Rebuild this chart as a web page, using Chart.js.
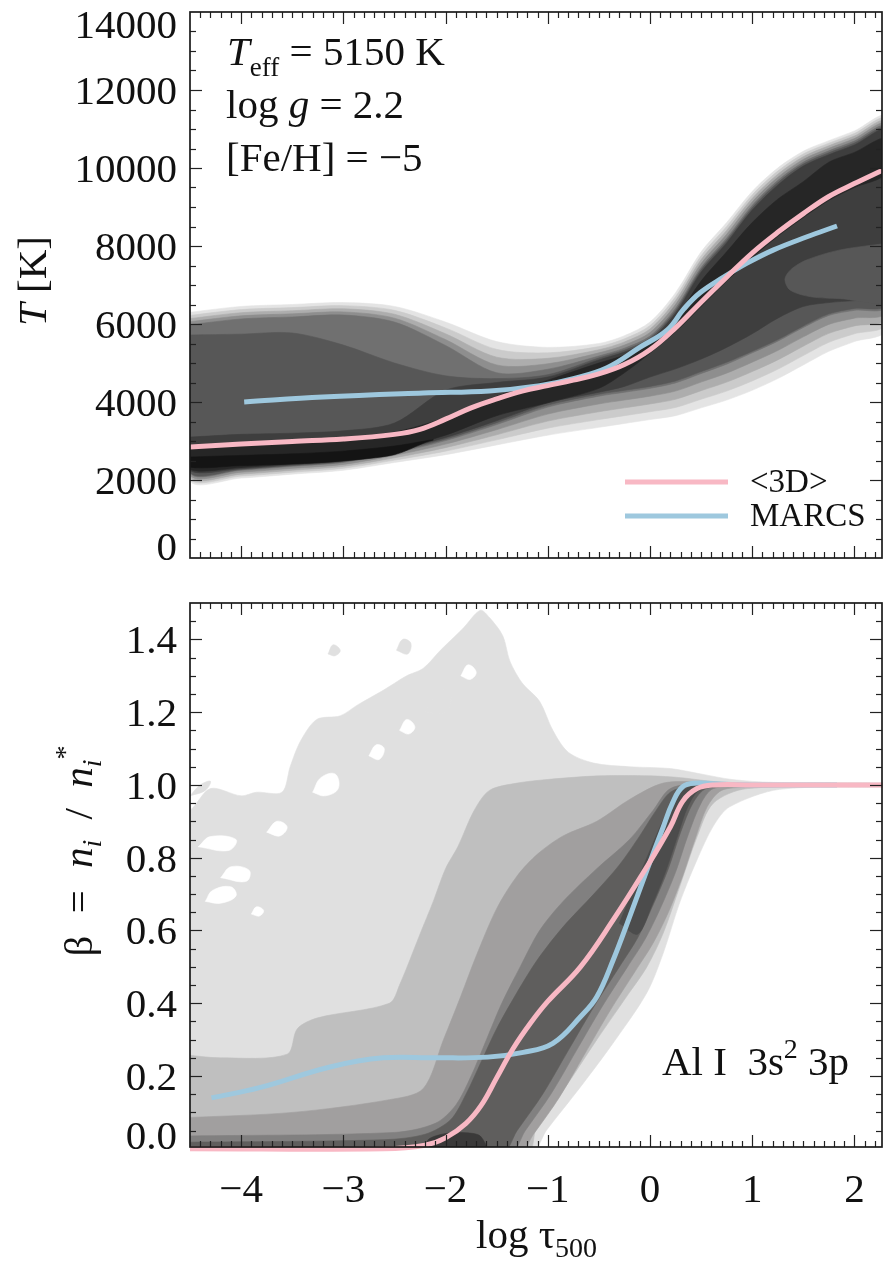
<!DOCTYPE html>
<html><head><meta charset="utf-8">
<script src="https://cdn.jsdelivr.net/npm/chart.js@4.4.1/dist/chart.umd.min.js"></script>
<style>html,body{margin:0;padding:0;background:#fff;}#wrap{position:relative;width:883px;height:1261px;overflow:hidden}canvas{position:absolute;left:0}</style>
</head><body><div id="wrap"><canvas id="ctop" width="883" height="590" style="top:0"></canvas><canvas id="cbot" width="883" height="671" style="top:590px"></canvas></div>
<script>
// ---------- tick values & labels ----------
const T_TICKS = [0,2000,4000,6000,8000,10000,12000,14000];
const T_LABELS = ['0','2000','4000','6000','8000','10000','12000','14000'];
const B_TICKS = [0,0.2,0.4,0.6,0.8,1.0,1.2,1.4];
const B_LABELS = ['0.0','0.2','0.4','0.6','0.8','1.0','1.2','1.4'];
const X_TICKS = [-4,-3,-2,-1,0,1,2];
const X_LABELS = ['\u22124','\u22123','\u22122','\u22121','0','1','2'];

// ---------- mean curves ----------
const SERIES_NAMES = ['<3D>','MARCS'];
const T3D_X = [-4.5,-4,-3.5,-3,-2.5,-2.25,-2,-1.75,-1.5,-1.25,-1,-0.75,-0.5,-0.25,0,0.25,0.5,0.75,1,1.25,1.5,1.75,2,2.28];
const T3D_Y = [2846,2923,2990,3050,3170,3300,3560,3850,4080,4280,4420,4560,4720,4960,5340,5900,6560,7200,7820,8350,8830,9270,9600,9949];
const TMARCS_X = [-3.97,-3.2,-2.22,-1.57,-1.08,-0.75,-0.42,-0.1,0.17,0.33,0.49,0.72,0.95,1.21,1.53,1.83];
const TMARCS_Y = [4000,4128,4231,4282,4420,4600,4880,5400,5850,6380,6800,7200,7560,7900,8230,8513];
const B3D_X = [-4.5,-2.6,-2.2,-2.0,-1.8,-1.65,-1.5,-1.34,-1.17,-1.0,-0.68,-0.36,-0.03,0.2,0.32,0.46,0.62,1.0,2.3];
const B3D_Y = [0,0,0.01,0.03,0.07,0.12,0.195,0.275,0.345,0.405,0.5,0.629,0.775,0.885,0.955,0.99,1.0,1.0,1.0];
const BMARCS_X = [-4.29,-3.82,-3.13,-2.61,-2.09,-1.59,-1.24,-0.95,-0.68,-0.52,-0.36,-0.2,-0.03,0.13,0.22,0.32,0.46,0.62,1.0,1.83];
const BMARCS_Y = [0.14,0.168,0.225,0.25,0.25,0.252,0.265,0.29,0.363,0.418,0.519,0.637,0.766,0.885,0.95,0.995,1.005,1.003,1.0,1.0];

// ---------- top panel: temperature distribution contours (upper / lower edges on a grid) ----------
const GRID_T = [-4.5,-4,-3.5,-3,-2.5,-2,-1.5,-1,-0.5,-0.25,0,0.25,0.5,0.75,1,1.25,1.5,1.75,2,2.3];
const T1_UP = [6300,6450,6500,6550,6450,6050,5550,5400,5500,5700,6050,6800,7850,8600,9400,10000,10430,10700,10950,11300];
const T1_LO = [2000,2050,2150,2250,2450,2650,2900,3150,3350,3450,3550,3650,3850,4050,4300,4600,4950,5300,5550,5850];
const T2_UP = [6220,6370,6420,6470,6350,5900,5350,5260,5420,5620,5960,6700,7750,8500,9310,9920,10360,10635,10885,11235];
const T2_LO = [2050,2100,2200,2300,2510,2740,3030,3330,3550,3650,3750,3860,4070,4280,4540,4840,5190,5530,5750,6000];
const T3_UP = [6140,6290,6340,6390,6250,5750,5150,5120,5340,5540,5870,6600,7650,8400,9220,9840,10290,10570,10820,11170];
const T3_LO = [2100,2150,2250,2350,2570,2830,3160,3510,3750,3850,3950,4070,4290,4510,4780,5080,5430,5760,5950,6150];
const T4_UP = [6060,6210,6260,6310,6150,5600,4950,4980,5260,5460,5780,6500,7550,8300,9130,9760,10220,10505,10755,11105];
const T4_LO = [2150,2200,2300,2400,2630,2920,3290,3690,3950,4050,4150,4280,4510,4740,5020,5320,5670,5990,6150,6300];
const T5_UP = [5980,6130,6180,6230,6050,5450,4750,4840,5180,5380,5690,6400,7450,8200,9040,9680,10150,10440,10690,11040];
const T5_LO = [2200,2250,2350,2450,2690,3010,3420,3870,4150,4250,4350,4490,4730,4970,5260,5560,5910,6220,6350,6450];
const T6_UP = [5720,5740,5770,5460,5000,4670,4600,4700,5130,5330,5640,6340,7390,8140,8980,9620,10100,10390,10640,10990];
const T6_LO = [2220,2270,2370,2470,2720,3050,3470,3920,4200,4300,4400,4540,4780,5020,5300,5600,5950,6260,6400,6500];
const T7_UP = [3100,3170,3200,3260,3460,4300,4500,4640,5080,5280,5590,6280,7330,8080,8920,9560,10050,10340,10590,10940];
const T7_LO = [2240,2290,2390,2490,2750,3090,3520,3980,4250,4400,4640,4850,5100,5400,5750,6150,6450,6550,6600,6650];
const T8_UP = [2900,2970,3030,3100,3230,3600,4150,4560,5000,5200,5500,6150,7100,7850,8600,9200,9650,10150,10400,10750];
const T8_LO = [2270,2320,2420,2520,2790,3150,3650,3980,4350,4750,5250,5800,6450,7100,7700,8250,8730,9170,9500,9850];
const T9 = [[-4.5,2590],[-4,2630],[-3.5,2670],[-3,2740],[-2.5,2870],[-2.2,3000],[-2.12,3030],[-2.2,2960],[-2.5,2650],[-3,2490],[-3.5,2410],[-4,2370],[-4.5,2330]];
const TONGUE = [[2.35,8080],[1.86,7900],[1.53,7640],[1.38,7400],[1.32,7150],[1.37,6870],[1.57,6700],[1.86,6650],[2.35,6600]];

// ---------- bottom panel: departure coefficient distribution contours ----------
const B1 = [[-4.6,0.93],[-4.5,0.93],[-4.3,0.99],[-4.0,0.97],[-3.85,0.98],[-3.6,0.98],[-3.52,1.05],[-3.42,1.12],[-3.26,1.18],[-3.03,1.19],[-2.86,1.22],[-2.61,1.26],[-2.38,1.30],[-2.22,1.32],[-2.05,1.37],[-1.83,1.43],[-1.66,1.48],[-1.57,1.46],[-1.44,1.41],[-1.37,1.34],[-1.25,1.28],[-1.08,1.23],[-0.95,1.15],[-0.8,1.09],[-0.55,1.06],[-0.2,1.05],[0.2,1.045],[0.5,1.03],[0.8,1.015],[1.2,1.007],[2.35,1.005],[2.35,0.995],[1.27,0.988],[0.78,0.94],[0.62,0.887],[0.46,0.794],[0.29,0.676],[0.13,0.538],[-0.03,0.429],[-0.36,0.291],[-0.68,0.17],[-1.01,0.052],[-1.17,-0.01],[-4.6,-0.01]];
const B2 = [[-4.6,0.26],[-4.2,0.25],[-3.55,0.26],[-3.45,0.33],[-3.25,0.36],[-2.55,0.40],[-2.45,0.45],[-2.25,0.59],[-2.12,0.68],[-2.0,0.77],[-1.88,0.83],[-1.72,0.93],[-1.57,0.985],[-1.3,1.005],[-1.0,1.015],[-0.5,1.025],[0,1.025],[0.3,1.02],[0.6,1.01],[1.0,1.004],[2.35,1.003],[2.35,0.997],[0.95,0.99],[0.62,0.95],[0.46,0.857],[0.29,0.72],[0.13,0.593],[-0.03,0.50],[-0.2,0.43],[-0.52,0.30],[-0.85,0.16],[-1.11,0.06],[-1.2,-0.01],[-4.6,-0.01]];
const B3 = [[-4.6,0.085],[-3.5,0.10],[-2.55,0.135],[-2.22,0.165],[-2.02,0.30],[-1.85,0.42],[-1.7,0.53],[-1.5,0.66],[-1.3,0.75],[-1.1,0.81],[-0.85,0.86],[-0.52,0.9],[-0.2,0.96],[0.13,1.005],[0.5,1.008],[1.0,1.003],[2.35,1.002],[2.35,0.998],[0.95,0.993],[0.7,0.985],[0.56,0.94],[0.44,0.85],[0.32,0.75],[0.18,0.65],[0.03,0.565],[-0.14,0.49],[-0.39,0.38],[-0.64,0.26],[-0.89,0.14],[-1.14,0.04],[-1.28,-0.01],[-4.6,-0.01]];
const B4 = [[-4.6,0.035],[-2.5,0.045],[-2.1,0.07],[-1.9,0.12],[-1.75,0.2],[-1.6,0.3],[-1.45,0.4],[-1.27,0.5],[-1.08,0.6],[-0.85,0.68],[-0.52,0.77],[-0.2,0.85],[0.03,0.93],[0.2,0.99],[0.5,1.003],[2.35,1.001],[2.35,0.999],[0.95,0.996],[0.62,0.99],[0.5,0.95],[0.37,0.86],[0.25,0.76],[0.1,0.66],[-0.05,0.575],[-0.22,0.5],[-0.47,0.39],[-0.72,0.27],[-0.97,0.15],[-1.22,0.05],[-1.37,-0.01],[-4.6,-0.01]];
const B5 = [[-4.6,0.018],[-2.6,0.025],[-2.2,0.04],[-1.95,0.08],[-1.8,0.15],[-1.65,0.24],[-1.5,0.33],[-1.3,0.43],[-1.1,0.52],[-0.85,0.61],[-0.55,0.7],[-0.3,0.78],[-0.1,0.86],[0.06,0.93],[0.2,0.98],[0.4,0.998],[1,1.0],[2.35,1.0],[2.35,0.9995],[0.9,0.998],[0.55,0.99],[0.42,0.95],[0.3,0.87],[0.18,0.77],[0.03,0.67],[-0.12,0.58],[-0.3,0.5],[-0.55,0.39],[-0.8,0.27],[-1.05,0.15],[-1.3,0.05],[-1.45,-0.01],[-4.6,-0.01]];
const B6 = [[-0.3,0.62],[-0.15,0.72],[0.0,0.82],[0.14,0.91],[0.26,0.97],[0.4,0.995],[0.7,1.0],[1.1,1.0],[1.1,0.999],[0.7,0.997],[0.48,0.985],[0.37,0.94],[0.27,0.86],[0.15,0.76],[0.02,0.67],[-0.12,0.59]];
const B7 = [[-2.2,-0.01],[-2.17,0.025],[-2.0,0.042],[-1.8,0.044],[-1.66,0.035],[-1.6,-0.01]];
const ISLANDS = [
  [[-2.48,1.37],[-2.42,1.40],[-2.34,1.39],[-2.37,1.36]],
  [[-3.15,1.36],[-3.1,1.385],[-3.03,1.37],[-3.08,1.355]],
  [[-4.5,0.97],[-4.4,1.0],[-4.3,1.01],[-4.35,0.985]],
  [[-2.2,1.2],[-2.05,1.26],[-1.95,1.25],[-2.0,1.2]]
];
const HOLES = [
  [[-4.35,0.68],[-4.28,0.71],[-4.1,0.72],[-4.05,0.695],[-4.2,0.675]],
  [[-4.2,0.745],[-4.1,0.775],[-3.92,0.765],[-3.95,0.735]],
  [[-3.9,0.645],[-3.85,0.665],[-3.78,0.655],[-3.82,0.64]],
  [[-4.42,0.83],[-4.3,0.858],[-4.05,0.85],[-4.12,0.82]],
  [[-3.3,0.98],[-3.22,1.02],[-3.08,1.03],[-3.05,0.99],[-3.18,0.97]],
  [[-2.75,1.08],[-2.68,1.11],[-2.6,1.1],[-2.65,1.07]],
  [[-2.45,1.15],[-2.38,1.18],[-2.3,1.16],[-2.36,1.14]],
  [[-3.75,0.87],[-3.65,0.9],[-3.55,0.885],[-3.62,0.86]],
  [[-1.85,1.3],[-1.78,1.33],[-1.7,1.31],[-1.76,1.29]]
];

// ---------- styling ----------
const PINK = '#F8B8C4', BLUE = '#9EC8DE';
const FONT = '"Liberation Serif","Times New Roman",serif';

function band(xs, up, lo) {
  const p = [];
  for (let i = 0; i < xs.length; i++) p.push({x: xs[i], y: up[i]});
  for (let i = xs.length - 1; i >= 0; i--) p.push({x: xs[i], y: lo[i]});
  p.push({x: xs[0], y: up[0]});
  return p;
}
function poly(arr) { const p = arr.map(a => ({x: a[0], y: a[1]})); p.push({x: arr[0][0], y: arr[0][1]}); return p; }
function shape(pts, color, tension) {
  return {data: pts, showLine: true, fill: 'shape', backgroundColor: color, borderColor: color,
          borderWidth: 0.6, pointRadius: 0, tension: tension === undefined ? 0.3 : tension};
}
function curve(xs, ys, color, label) {
  return {label, data: xs.map((x, i) => ({x, y: ys[i]})), showLine: true, fill: false,
          borderColor: color, backgroundColor: color, borderWidth: 5, pointRadius: 0,
          tension: 0.4, clip: false};
}
function ordered(list) { return list.map((d, i) => Object.assign(d, {order: list.length - i})); }

function seg(ctx, x1, y1, x2, y2) { ctx.beginPath(); ctx.moveTo(x1, y1); ctx.lineTo(x2, y2); ctx.stroke(); }
function fnt(r) { return (r.it ? 'italic ' : '') + (r.sz || 41) + 'px ' + FONT; }
function runsW(ctx, runs) { let w = 0; runs.forEach(r => { ctx.font = fnt(r); w += ctx.measureText(r.t).width + (r.gap || 0); }); return w; }
function drawRuns(ctx, x, y, runs) {
  let cx = x;
  runs.forEach(r => { ctx.font = fnt(r); ctx.fillText(r.t, cx, y + (r.dy || 0)); cx += ctx.measureText(r.t).width + (r.gap || 0); });
}
function vertTitle(ctx, bx, cy, runs) {
  ctx.save(); ctx.translate(bx, cy); ctx.rotate(-Math.PI / 2);
  ctx.textAlign = 'left'; drawRuns(ctx, -runsW(ctx, runs) / 2, 0, runs); ctx.restore();
}

function frame(chart, o) {
  const {ctx, chartArea: a} = chart, sx = chart.scales.x, sy = chart.scales.y;
  ctx.save();
  ctx.strokeStyle = '#222'; ctx.lineWidth = 1.2;
  for (let i = Math.ceil(sx.min * 10); i <= Math.floor(sx.max * 10); i++) {
    const px = Math.round(sx.getPixelForValue(i / 10)) + 0.5;
    if (px <= a.left + 1 || px >= a.right - 1) continue;
    const L = (i % 10 === 0) ? 12 : 6;
    seg(ctx, px, a.bottom, px, a.bottom - L); seg(ctx, px, a.top, px, a.top + L);
  }
  for (let k = 0; k <= o.nMinor; k++) {
    const v = k * o.minor;
    const py = Math.round(sy.getPixelForValue(v)) + 0.5;
    if (py <= a.top + 1 || py >= a.bottom - 1) continue;
    const L = (k % o.every === 0) ? 12 : 6;
    seg(ctx, a.left, py, a.left + L, py); seg(ctx, a.right, py, a.right - L, py);
  }
  ctx.lineWidth = 1.7; ctx.strokeStyle = '#1a1a1a';
  ctx.strokeRect(a.left, a.top, a.right - a.left, a.bottom - a.top);
  ctx.fillStyle = '#111'; ctx.font = '41px ' + FONT; ctx.textAlign = 'right'; ctx.textBaseline = 'alphabetic';
  o.yTicks.forEach((v, i) => {
    let c = sy.getPixelForValue(v);
    c = Math.min(Math.max(c, a.top + 11.5), a.bottom - 12.5);
    ctx.fillText(o.yLabels[i], a.left - 13, c + 14);
  });
  if (o.xLabels) {
    ctx.textAlign = 'center';
    o.xTicks.forEach((v, i) => ctx.fillText(o.xLabels[i], sx.getPixelForValue(v), a.bottom + 55));
  }
  ctx.textAlign = 'left';
  o.extra(ctx, a, chart);
  ctx.restore();
}

// ---------- top chart ----------
const topSets = ordered([
  shape(band(GRID_T, T1_UP, T1_LO), '#e4e4e4'),
  shape(band(GRID_T, T2_UP, T2_LO), '#cbcbcb'),
  shape(band(GRID_T, T3_UP, T3_LO), '#adadad'),
  shape(band(GRID_T, T4_UP, T4_LO), '#8e8e8e'),
  shape(band(GRID_T, T5_UP, T5_LO), '#707070'),
  shape(band(GRID_T, T6_UP, T6_LO), '#575757'),
  shape(band(GRID_T, T7_UP, T7_LO), '#3e3e3e'),
  shape(poly(TONGUE), '#575757'),
  shape(band(GRID_T, T8_UP, T8_LO), '#262626'),
  shape(poly(T9), '#141414'),
  curve(TMARCS_X, TMARCS_Y, BLUE, SERIES_NAMES[1]),
  curve(T3D_X, T3D_Y, PINK, SERIES_NAMES[0])
]);
new Chart(document.getElementById('ctop'), {
  type: 'line',
  data: {datasets: topSets},
  options: {
    responsive: false, animation: false, devicePixelRatio: 1, events: [],
    layout: {padding: {left: 190, right: 1, top: 12, bottom: 32}},
    plugins: {legend: {display: false}, tooltip: {enabled: false}},
    scales: {x: {type: 'linear', min: -4.5, max: 2.27, display: false},
             y: {type: 'linear', min: 0, max: 14000, display: false}}
  },
  plugins: [{id: 'frameTop', afterDraw(chart) {
    frame(chart, {nMinor: 28, minor: 500, every: 4, yTicks: T_TICKS, yLabels: T_LABELS,
      extra(ctx, a, ch) {
        ctx.fillStyle = '#111';
        drawRuns(ctx, 227, 65, [{t: 'T', it: true}, {t: 'eff', sz: 27, dy: 11}, {t: ' = 5150 K'}]);
        drawRuns(ctx, 226, 118, [{t: 'log '}, {t: 'g', it: true}, {t: ' = 2.2'}]);
        drawRuns(ctx, 226, 171, [{t: '[Fe/H] = \u22125'}]);
        vertTitle(ctx, 46, 281, [{t: 'T', it: true}, {t: ' [K]'}]);
        const ds = ch.data.datasets;
        const leg = [ds[ds.length - 1], ds[ds.length - 2]];
        leg.forEach((d, i) => {
          const y = 482 + i * 34;
          ctx.strokeStyle = d.borderColor; ctx.lineWidth = 5;
          seg(ctx, 625, y, 728, y);
          ctx.font = '33px ' + FONT; ctx.fillStyle = '#111';
          ctx.fillText(d.label, 750, y + 10);
        });
      }});
  }}]
});

// ---------- bottom chart ----------
const botSets = [shape(poly(B1), '#e0e0e0')];
ISLANDS.forEach(p => botSets.push(shape(poly(p), '#e0e0e0', 0.4)));
HOLES.forEach(p => botSets.push(shape(poly(p), '#ffffff', 0.4)));
botSets.push(shape(poly(B2), '#bfbfbf'), shape(poly(B3), '#a19f9f'), shape(poly(B4), '#818080'),
  shape(poly(B5), '#5f5e5d'), shape(poly(B6), '#4c4c4c'), shape(poly(B7), '#3a3939'),
  curve(BMARCS_X, BMARCS_Y, BLUE, SERIES_NAMES[1]), curve(B3D_X, B3D_Y, PINK, SERIES_NAMES[0]));
new Chart(document.getElementById('cbot'), {
  type: 'line',
  data: {datasets: ordered(botSets)},
  options: {
    responsive: false, animation: false, devicePixelRatio: 1, events: [],
    layout: {padding: {left: 190, right: 1, top: 13, bottom: 114}},
    plugins: {legend: {display: false}, tooltip: {enabled: false}},
    scales: {x: {type: 'linear', min: -4.5, max: 2.27, display: false},
             y: {type: 'linear', min: 0.005, max: 1.5, display: false}}
  },
  plugins: [{id: 'frameBot', afterDraw(chart) {
    frame(chart, {nMinor: 30, minor: 0.05, every: 4, yTicks: B_TICKS, yLabels: B_LABELS,
      xTicks: X_TICKS, xLabels: X_LABELS,
      extra(ctx, a) {
        ctx.fillStyle = '#111';
        drawRuns(ctx, 476, 658, [{t: 'log \u03c4'}, {t: '500', sz: 28, dy: 9}]);
        drawRuns(ctx, 662, 485, [{t: 'Al I  3s'}, {t: '2', sz: 28, dy: -17}, {t: ' 3p'}]);
        vertTitle(ctx, 92, 261, [{t: '\u03b2', gap: 12}, {t: ' = ', gap: 12}, {t: 'n', it: true},
          {t: 'i', it: true, sz: 28, dy: 9, gap: 10}, {t: ' / ', gap: 10}, {t: 'n', it: true},
          {t: 'i', it: true, sz: 28, dy: 9}, {t: '*', sz: 28, dy: -18}]);
      }});
  }}]
});
</script></body></html>
